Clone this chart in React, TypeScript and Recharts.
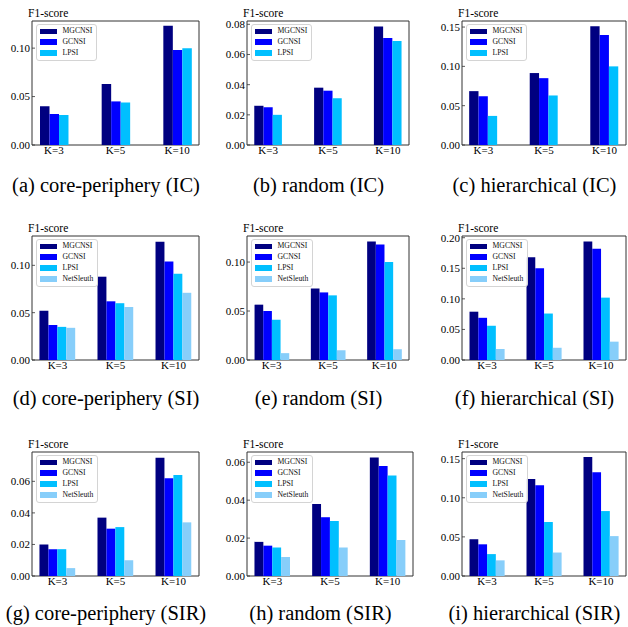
import React from 'react';
import { BarChart, Bar, XAxis, YAxis, ReferenceArea, Legend } from 'recharts';

// ---------- data ----------
const K_LABELS = ['K=3', 'K=5', 'K=10'];
const K_POS = [0, 1, 2];
const METHODS = ['MGCNSI', 'GCNSI', 'LPSI', 'NetSleuth'];
const COLORS = ['#000080', '#0000FF', '#00BFFF', '#87CEFA'];

// rows = methods (MGCNSI, GCNSI, LPSI, NetSleuth), columns = K=3, K=5, K=10
const CP_IC = [
  [0.040, 0.063, 0.123],
  [0.032, 0.045, 0.098],
  [0.031, 0.044, 0.100],
];
const RAND_IC = [
  [0.026, 0.038, 0.0785],
  [0.025, 0.036, 0.071],
  [0.020, 0.031, 0.069],
];
const HIER_IC = [
  [0.0685, 0.0915, 0.151],
  [0.062, 0.085, 0.140],
  [0.037, 0.063, 0.100],
];
const CP_SI = [
  [0.052, 0.088, 0.125],
  [0.037, 0.062, 0.104],
  [0.035, 0.060, 0.091],
  [0.034, 0.056, 0.071],
];
const RAND_SI = [
  [0.0565, 0.073, 0.121],
  [0.050, 0.069, 0.118],
  [0.041, 0.066, 0.100],
  [0.007, 0.010, 0.011],
];
const HIER_SI = [
  [0.079, 0.168, 0.194],
  [0.069, 0.150, 0.182],
  [0.056, 0.076, 0.102],
  [0.018, 0.020, 0.030],
];
const CP_SIR = [
  [0.020, 0.037, 0.075],
  [0.017, 0.030, 0.062],
  [0.017, 0.031, 0.064],
  [0.005, 0.010, 0.034],
];
const RAND_SIR = [
  [0.018, 0.038, 0.0625],
  [0.016, 0.031, 0.058],
  [0.015, 0.029, 0.053],
  [0.010, 0.015, 0.019],
];
const HIER_SIR = [
  [0.047, 0.124, 0.152],
  [0.0405, 0.116, 0.1325],
  [0.028, 0.069, 0.083],
  [0.020, 0.030, 0.051],
];

const PANEL_DATA = [CP_IC, RAND_IC, HIER_IC, CP_SI, RAND_SI, HIER_SI, CP_SIR, RAND_SIR, HIER_SIR];
const CAPTIONS = [
  '(a) core-periphery (IC)', '(b) random (IC)', '(c) hierarchical (IC)',
  '(d) core-periphery (SI)', '(e) random (SI)', '(f) hierarchical (SI)',
  '(g) core-periphery (SIR)', '(h) random (SIR)', '(i) hierarchical (SIR)',
];
const Y_TICKS = [
  [0, 0.05, 0.1], [0, 0.02, 0.04, 0.06, 0.08], [0, 0.05, 0.1, 0.15],
  [0, 0.05, 0.1], [0, 0.05, 0.1], [0, 0.05, 0.1, 0.15, 0.2],
  [0, 0.02, 0.04, 0.06], [0, 0.02, 0.04, 0.06], [0, 0.05, 0.1, 0.15],
];
const Y_MAX = [0.128, 0.0822, 0.1577, 0.131, 0.1266, 0.2028, 0.0786, 0.0654, 0.1585];
const Y_LABEL = 'F1-score';

// ---------- layout ----------
const FONT = '"Liberation Serif", "Times New Roman", "DejaVu Serif", serif';
const COL_BOX = [[32, 199], [247, 409], [462, 626]];
const ROW_BOX = [[21, 145], [236, 360], [452, 576]];
const CAPTION_BASE = [192, 405, 620];
const BAR_W = 0.154;
const YW = 32;
const TOPM = 20;
const XH = 20;
const RM = 3;

const LegendBox = (props: any) => {
  const payload = [...(props.payload || [])].sort(
    (a: any, b: any) => METHODS.indexOf(a.value) - METHODS.indexOf(b.value)
  );
  return (
    <div
      style={{
        border: '1px solid #d4d4d4',
        borderRadius: 3,
        background: 'rgba(255,255,255,0.85)',
        padding: '1.5px 4px 1.5px 3px',
        fontFamily: FONT,
        fontSize: 7.7,
        color: '#111',
        whiteSpace: 'nowrap',
      }}
    >
      {payload.map((p: any) => (
        <div key={p.value} style={{ display: 'flex', alignItems: 'center', height: 10.8 }}>
          <span style={{ display: 'inline-block', width: 16.5, height: 5.5, background: p.color }} />
          <span style={{ marginLeft: 6, lineHeight: '10px' }}>{p.value}</span>
        </div>
      ))}
    </div>
  );
};

function Panel({ idx }: { idx: number }) {
  const col = idx % 3;
  const row = Math.floor(idx / 3);
  const L = COL_BOX[col][0];
  const R = idx === 7 ? 413 : COL_BOX[col][1];
  const [T, B] = ROW_BOX[row];
  const series = PANEL_DATA[idx];
  const n = series.length;
  const half = (n * BAR_W) / 2;
  const ext = 2 + 2 * half;
  const lo = -half - 0.05 * ext;
  const hi = 2 + half + 0.05 * ext;
  const plotW = R - L;
  const plotH = B - T;
  const barPx = (BAR_W * plotW) / (hi - lo);
  const rows = K_POS.map((x, i) => {
    const r: any = { x, label: K_LABELS[i] };
    series.forEach((s, j) => {
      r[METHODS[j]] = s[i];
    });
    return r;
  });
  const width = YW + plotW + RM;
  const height = TOPM + plotH + XH;
  const tickStyle = { fontSize: 11, fill: '#000', fontFamily: FONT };

  return (
    <div style={{ position: 'absolute', left: L - YW, top: T - TOPM }}>
      <BarChart
        width={width}
        height={height}
        data={rows}
        margin={{ top: TOPM, right: RM, bottom: 0, left: 0 }}
        barGap={0}
        barCategoryGap={0}
      >
        <XAxis
          type="number"
          dataKey="x"
          domain={[lo, hi]}
          allowDataOverflow
          ticks={K_POS}
          interval={0}
          tickFormatter={(v: number) => K_LABELS[v] ?? ''}
          axisLine={false}
          tickLine={false}
          tickSize={0}
          tickMargin={1}
          height={XH}
          tick={tickStyle}
        />
        <YAxis
          type="number"
          domain={[0, Y_MAX[idx]]}
          allowDataOverflow
          ticks={Y_TICKS[idx]}
          interval={0}
          tickFormatter={(v: number) => v.toFixed(2)}
          width={YW}
          axisLine={false}
          tickSize={-3}
          tickMargin={5}
          tickLine={{ stroke: '#333', strokeWidth: 0.8 }}
          tick={tickStyle}
          label={{
            content: (lp: any) => {
              const vb = lp.viewBox || { x: 0, y: TOPM, width: YW };
              return (
                <text
                  x={vb.x + vb.width - 4}
                  y={vb.y - 4}
                  fontFamily={FONT}
                  fontSize={11.5}
                  fill="#000"
                  textAnchor="start"
                >
                  {Y_LABEL}
                </text>
              );
            },
          }}
        />
        {series.map((_, j) => (
          <Bar
            key={METHODS[j]}
            dataKey={METHODS[j]}
            name={METHODS[j]}
            fill={COLORS[j]}
            barSize={barPx}
            isAnimationActive={false}
          />
        ))}
        <ReferenceArea
          x1={lo}
          x2={hi}
          y1={0}
          y2={Y_MAX[idx]}
          fill="none"
          fillOpacity={0}
          stroke="#333"
          strokeWidth={1}
          ifOverflow="visible"
        />
        <Legend
          layout="horizontal"
          verticalAlign="middle"
          align="center"
          itemSorter={(item: any) => METHODS.indexOf(item.value)}
          content={LegendBox}
          wrapperStyle={{ left: YW + 4, top: TOPM + 2.5, width: 'auto', height: 'auto' }}
        />
      </BarChart>
    </div>
  );
}

export default function App() {
  return (
    <div style={{ position: 'absolute', left: 0, top: 0, width: 628, height: 627, background: '#fff' }}>
      <svg width={628} height={627} style={{ position: 'absolute', left: 0, top: 0 }}>
        {CAPTIONS.map((c, i) => {
          const col = i % 3;
          const row = Math.floor(i / 3);
          const L = COL_BOX[col][0];
          const R = i === 7 ? 413 : COL_BOX[col][1];
          return (
            <text
              key={c}
              x={(L + R) / 2 - 9.5}
              y={CAPTION_BASE[row]}
              textAnchor="middle"
              fontFamily={FONT}
              fontSize={20.5}
              fill="#000"
            >
              {c}
            </text>
          );
        })}
      </svg>
      {PANEL_DATA.map((_, i) => (
        <Panel key={i} idx={i} />
      ))}
    </div>
  );
}
